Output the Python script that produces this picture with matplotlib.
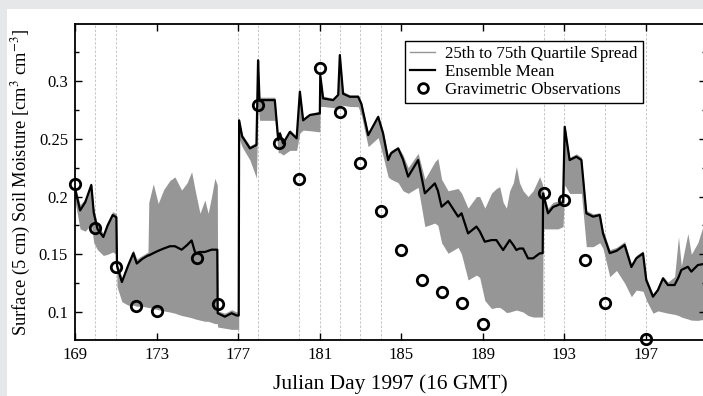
import matplotlib
matplotlib.use("Agg")
import matplotlib.pyplot as plt
from matplotlib.patches import Rectangle
from matplotlib.ticker import MultipleLocator

plt.rcParams.update({
    "font.family": "serif",
    "font.serif": ["Liberation Serif", "DejaVu Serif"],
    "mathtext.fontset": "stix",
})

# ---- data ----
day = [169.00, 169.25, 169.50, 169.80, 169.92, 170.10, 170.39, 170.60, 170.85, 171.03,
       171.06, 171.30, 171.60, 171.86, 172.03, 172.30, 172.58, 172.62, 172.84, 173.08,
       173.35, 173.66, 173.90, 174.23, 174.50, 174.72, 174.90, 175.13, 175.37, 175.53,
       175.70, 175.86, 175.98, 176.00, 176.35, 176.68, 176.93, 177.03, 177.05, 177.20,
       177.58, 177.90, 177.98, 178.05, 178.40, 178.80, 178.97, 179.05, 179.21, 179.54,
       179.87, 180.03, 180.19, 180.52, 181.01, 181.03, 181.17, 181.66, 181.91, 181.99,
       182.15, 182.48, 182.89, 183.05, 183.38, 183.87, 184.11, 184.36, 184.50, 184.85,
       185.09, 185.34, 185.83, 186.16, 186.65, 186.80, 186.98, 187.30, 187.79, 187.96,
       188.28, 188.69, 188.85, 189.10, 189.43, 189.67, 189.83, 190.00, 190.16, 190.32,
       190.50, 190.65, 190.80, 190.98, 191.22, 191.47, 191.79, 191.94, 191.96, 192.20,
       192.45, 192.69, 192.94, 193.02, 193.26, 193.59, 193.84, 194.08, 194.41, 194.74,
       194.90, 195.23, 195.56, 195.96, 196.29, 196.53, 196.86, 197.02, 197.35, 197.59,
       197.84, 198.08, 198.41, 198.60, 198.74, 199.06, 199.23, 199.55, 199.95]

ens_mean = [0.207, 0.188, 0.195, 0.210, 0.186, 0.172, 0.165, 0.175, 0.184, 0.182,
            0.140, 0.126, 0.140, 0.151, 0.142, 0.146, 0.149, 0.149, 0.151, 0.153,
            0.155, 0.157, 0.157, 0.154, 0.158, 0.162, 0.151, 0.152, 0.152, 0.153,
            0.154, 0.154, 0.154, 0.099, 0.096, 0.099, 0.097, 0.097, 0.266, 0.252,
            0.2417, 0.2446, 0.318, 0.2835, 0.2835, 0.2835, 0.249, 0.2547, 0.246, 0.256,
            0.2504, 0.2908, 0.266, 0.2706, 0.272, 0.305, 0.285, 0.2835, 0.288, 0.3225,
            0.289, 0.2864, 0.2864, 0.280, 0.2532, 0.269, 0.2547, 0.2316, 0.2374, 0.2417,
            0.232, 0.2172, 0.2316, 0.2028, 0.2114, 0.205, 0.1912, 0.196, 0.1826, 0.1855,
            0.1681, 0.174, 0.170, 0.1609, 0.1623, 0.1623, 0.158, 0.1537, 0.158, 0.1623,
            0.158, 0.1537, 0.155, 0.155, 0.1465, 0.1465, 0.1508, 0.151, 0.2027, 0.1855,
            0.191, 0.1926, 0.195, 0.2604, 0.2316, 0.2345, 0.2316, 0.1855, 0.1826, 0.184,
            0.168, 0.151, 0.153, 0.158, 0.139, 0.1465, 0.1508, 0.1277, 0.1133, 0.119,
            0.1292, 0.1234, 0.1234, 0.130, 0.1364, 0.1392, 0.135, 0.1407, 0.142]

q25 = [0.196, 0.172, 0.170, 0.176, 0.160, 0.154, 0.149, 0.150, 0.152, 0.150,
       0.122, 0.109, 0.106, 0.106, 0.105, 0.105, 0.104, 0.104, 0.103, 0.102,
       0.101, 0.100, 0.099, 0.097, 0.096, 0.095, 0.094, 0.093, 0.092, 0.092,
       0.091, 0.090, 0.090, 0.087, 0.086, 0.085, 0.085, 0.085, 0.250, 0.243,
       0.2316, 0.216, 0.280, 0.266, 0.266, 0.266, 0.238, 0.238, 0.236, 0.240,
       0.240, 0.255, 0.2575, 0.257, 0.256, 0.278, 0.278, 0.277, 0.276, 0.279,
       0.279, 0.278, 0.2778, 0.270, 0.2432, 0.251, 0.235, 0.217, 0.215, 0.212,
       0.205, 0.2028, 0.208, 0.174, 0.177, 0.175, 0.160, 0.1509, 0.156, 0.150,
       0.1278, 0.132, 0.130, 0.110, 0.103, 0.104, 0.104, 0.102, 0.0996, 0.100,
       0.101, 0.1017, 0.101, 0.100, 0.097, 0.0957, 0.0957, 0.0957, 0.172, 0.172,
       0.172, 0.172, 0.174, 0.210, 0.2027, 0.2027, 0.2027, 0.1566, 0.1566, 0.160,
       0.155, 0.1306, 0.136, 0.125, 0.1133, 0.119, 0.118, 0.1104, 0.099, 0.101,
       0.100, 0.099, 0.098, 0.097, 0.0957, 0.094, 0.093, 0.0928, 0.094]

q75 = [0.210, 0.193, 0.198, 0.212, 0.190, 0.176, 0.168, 0.178, 0.187, 0.185,
       0.143, 0.130, 0.143, 0.154, 0.146, 0.149, 0.152, 0.195, 0.211, 0.194,
       0.206, 0.214, 0.217, 0.2056, 0.212, 0.2215, 0.205, 0.1855, 0.197, 0.1855,
       0.200, 0.2158, 0.210, 0.101, 0.099, 0.102, 0.100, 0.100, 0.268, 0.254,
       0.244, 0.247, 0.320, 0.286, 0.286, 0.286, 0.251, 0.257, 0.248, 0.258,
       0.252, 0.293, 0.268, 0.272, 0.274, 0.307, 0.287, 0.285, 0.290, 0.324,
       0.291, 0.288, 0.288, 0.282, 0.255, 0.271, 0.257, 0.236, 0.240, 0.2432,
       0.236, 0.225, 0.2374, 0.215, 0.230, 0.233, 0.215, 0.205, 0.207, 0.203,
       0.190, 0.200, 0.200, 0.190, 0.203, 0.207, 0.2085, 0.195, 0.190, 0.205,
       0.212, 0.226, 0.212, 0.205, 0.200, 0.205, 0.2172, 0.210, 0.205, 0.190,
       0.195, 0.196, 0.198, 0.262, 0.234, 0.237, 0.234, 0.188, 0.185, 0.186,
       0.171, 0.154, 0.156, 0.161, 0.142, 0.149, 0.153, 0.130, 0.116, 0.121,
       0.131, 0.126, 0.1306, 0.1652, 0.140, 0.168, 0.150, 0.160, 0.1826]

obs_day = [169.0, 170.0, 171.0, 172.0, 173.0, 175.0, 176.0, 178.0, 179.0, 180.0,
           181.0, 182.0, 183.0, 184.0, 185.0, 186.0, 187.0, 188.0, 189.0, 192.0,
           193.0, 194.0, 195.0, 197.0]
obs_sm = [0.211, 0.173, 0.139, 0.105, 0.101, 0.1465, 0.1066, 0.279, 0.2466, 0.2154,
          0.3115, 0.2734, 0.2287, 0.1874, 0.1537, 0.1277, 0.1176, 0.108, 0.0896, 0.2027,
          0.197, 0.145, 0.1075, 0.0765]

guide_days = [170, 171, 177, 178, 180, 181, 182, 183, 184, 192, 193, 195, 197]
x_ticks = [169, 173, 177, 181, 185, 189, 193, 197]
y_ticks = [0.1, 0.15, 0.2, 0.25, 0.3]
y_ticklabels = ["0.1", "0.15", "0.2", "0.25", "0.3"]

# ---- figure ----
fig = plt.figure(figsize=(7.03, 3.96), dpi=100, facecolor="#e6e7e9")
fig.patches.append(Rectangle((7 / 703, 0), 1, 1 - 9 / 396, transform=fig.transFigure,
                             facecolor="white", edgecolor="none", zorder=-10))
ax = fig.add_axes([75 / 703, 1 - 340 / 396, 631 / 703, 316 / 396])
ax.set_zorder(1)

for d in guide_days:
    ax.axvline(d, color="#bdbdbd", lw=0.6, ls=(0, (3, 2)), zorder=0.5)

ax.fill_between(day, q25, q75, color="#969696", lw=0, zorder=1)
ax.plot(day, ens_mean, color="black", lw=1.6, zorder=2)
ax.plot(obs_day, obs_sm, ls="none", marker="o", ms=7.5, mfc="none", mec="black",
        mew=2.0, zorder=3, clip_on=False)

ax.set_xlim(169, 199.95)
ax.set_ylim(0.0758, 0.3494)
ax.set_xticks(x_ticks)
ax.set_yticks(y_ticks)
ax.set_yticklabels(y_ticklabels)
ax.yaxis.set_minor_locator(MultipleLocator(0.025))
ax.tick_params(which="both", direction="in", top=True, right=True, labelsize=12,
               width=1.0)
ax.tick_params(axis="x", pad=5)
ax.tick_params(axis="y", pad=5)
ax.tick_params(which="major", length=5)
ax.tick_params(which="minor", length=3)
for s in ax.spines.values():
    s.set_linewidth(1.3)

ax.set_xlabel("Julian Day 1997 (16 GMT)", fontsize=15.5, labelpad=8)
ax.set_ylabel("Surface (5 cm) Soil Moisture [cm$^3$ cm$^{-3}$]", fontsize=13.3,
              labelpad=4)

h_band, = ax.plot([], [], color="#969696", lw=1.0)
h_mean, = ax.plot([], [], color="black", lw=1.6)
h_obs, = ax.plot([], [], ls="none", marker="o", ms=7, mfc="none", mec="black", mew=2.0)
leg = ax.legend([h_band, h_mean, h_obs],
                ["25th to 75th Quartile Spread", "Ensemble Mean", "Gravimetric Observations"],
                loc="upper right", bbox_to_anchor=(0.900, 0.946), borderaxespad=0,
                fontsize=12.2, frameon=True, fancybox=False, edgecolor="black",
                framealpha=1, handlelength=1.5, handletextpad=0.6,
                labelspacing=0.1, borderpad=0.3)
leg.get_frame().set_linewidth(1.0)

fig.savefig("out.png", dpi=100, facecolor=fig.get_facecolor())
